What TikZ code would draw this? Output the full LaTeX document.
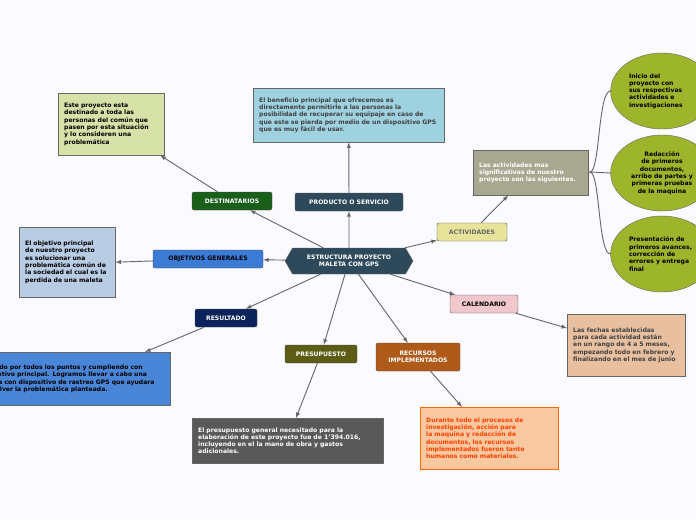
\documentclass[tikz,border=0pt]{standalone}
\usepackage{fontspec}
\setmainfont{DejaVu Sans}
\usetikzlibrary{shapes.symbols,shapes.geometric}
\definecolor{slate}{HTML}{2E4A5A}
\definecolor{olv}{HTML}{9DB52A}
\hyphenpenalty=10000 \exhyphenpenalty=10000
\begin{document}
\begin{tikzpicture}[x=1pt,y=-1pt,
 every node/.style={font=\bfseries\fontsize{6.1}{7.3}\selectfont},
 mainbox/.style={draw=black!70,rounded corners=2pt,minimum height=18,text=white,inner sep=2pt},
 leaf/.style={draw=black!60,anchor=north west,align=left,inner sep=6pt},
 ell/.style={ellipse,draw=black!60,fill=olv,minimum width=100,minimum height=76,align=left,text width=66},
 arr/.style={draw=gray!80!black,line width=0.9pt,-latex},
 ln/.style={draw=gray!80!black,line width=0.9pt}]
\fill[blue!2] (0,0) rectangle (696,520);
\useasboundingbox (0,0) rectangle (696,520);
\node[signal,signal to=east and west,signal pointer angle=120,fill=slate,draw=black!60,text=white,minimum width=128,minimum height=26,align=center] (c) at (349,261) {ESTRUCTURA PROYECTO\\MALETA CON GPS};
\node[mainbox,fill=green!30!black!90,minimum width=80] (dest) at (232,201) {DESTINATARIOS};
\node[mainbox,fill=slate,minimum width=108] (prod) at (349,202) {PRODUCTO O SERVICIO};
\node[mainbox,fill={rgb,255:red,58;green,123;blue,213},text=black,minimum width=110] (obj) at (208,259) {OBJETIVOS GENERALES};
\node[mainbox,fill={rgb,255:red,232;green,227;blue,154},text=black!60,minimum width=70] (act) at (472,232) {ACTIVIDADES};
\node[mainbox,fill={rgb,255:red,10;green,35;blue,90},minimum width=62] (res) at (226,318) {RESULTADO};
\node[mainbox,fill={rgb,255:red,92;green,92;blue,20},minimum width=72] (pre) at (321,354) {PRESUPUESTO};
\node[mainbox,fill={rgb,255:red,176;green,90;blue,26},minimum width=84,minimum height=28,align=center,text=white] (rec) at (418,357) {RECURSOS\\IMPLEMENTADOS};
\node[mainbox,fill={rgb,255:red,240;green,200;blue,204},text=black,minimum width=68] (cal) at (484,304) {CALENDARIO};
\node[leaf,fill={rgb,255:red,214;green,226;blue,168},text width=94,minimum height=62] (l1) at (58,93) {Este proyecto esta destinado a toda las personas del común que pasen por esta situación y lo consideren una problemática};
\node[leaf,fill={rgb,255:red,159;green,210;blue,224},text width=179,minimum height=54,text=black!75] (l2) at (253,88) {El beneficio principal que ofrecemos es directamente permitirle a las personas la posibilidad de recuperar su equipaje en caso de que este se pierda por medio de un dispositivo GPS que es muy fácil de usar.};
\node[leaf,fill={rgb,255:red,184;green,204;blue,228},text width=84,minimum height=70] (l3) at (19,227) {El objetivo principal de nuestro proyecto es solucionar una problemática común de la sociedad el cual es la perdida de una maleta};
\node[leaf,fill={rgb,255:red,168;green,168;blue,144},text=white,text width=103,minimum height=45] (l4) at (473,150) {Las actividades mas significativas de nuestro proyecto son las siguientes.};
\node[leaf,fill={rgb,255:red,74;green,134;blue,216},text width=185,minimum height=53,anchor=north east] (l5) at (170,352) {Pasando por todos los puntos y cumpliendo con el objetivo principal. Logramos llevar a cabo una maleta con dispositivo de rastreo GPS que ayudara a resolver la problemática planteada.};
\node[leaf,fill=black!65,text=white,text width=179,minimum height=45] (l6) at (192,418) {El presupuesto general necesitado para la elaboración de este proyecto fue de 1'394.016, incluyendo en el la mano de obra y gastos adicionales.};
\node[leaf,fill={rgb,255:red,248;green,200;blue,160},draw=orange!80!red,text=orange!50!red,text width=126,minimum height=62] (l7) at (420,407) {Durante todo el procesos de investigación, acción para la maquina y redacción de documentos, los recursos implementados fueron tanto humanos como materiales.};
\node[leaf,fill={rgb,255:red,232;green,192;blue,160},text=black!75,text width=106,minimum height=62] (l8) at (567,314) {Las fechas establecidas para cada actividad están en un rango de 4 a 5 meses, empezando todo en febrero y finalizando en el mes de junio};
\node[ell] (e1) at (662,91) {Inicio del proyecto con sus respectivas actividades e investigaciones};
\node[ell,align=center] (e2) at (662,173) {Redacción de primeros documentos, arribo de partes y primeras pruebas de la maquina};
\node[ell] (e3) at (662,254) {Presentación de primeros avances, corrección de errores y entrega final};
\draw[arr] (c) -- (dest);
\draw[arr] (c) -- (prod);
\draw[arr] (c) -- (obj);
\draw[arr] (c) -- (act);
\draw[arr] (c) -- (res);
\draw[arr] (c) -- (pre);
\draw[arr] (c) -- (rec);
\draw[arr] (c) -- (cal);
\draw[arr] (dest) -- (l1);
\draw[arr] (prod) -- (l2);
\draw[arr] (obj) -- (l3.east);
\draw[arr] (act) -- (l4);
\draw[arr] (res) -- (145,352);
\draw[arr] (pre) -- (296,418);
\draw[arr] (rec) -- (462,407);
\draw[arr] (cal) -- (l8);
\coordinate (hub) at (590,172);
\draw[ln] (l4.east) -- (hub);
\draw[ln] (hub) .. controls (600,172) and (598,91) .. (e1.west);
\draw[ln] (hub) -- (e2.west);
\draw[ln] (hub) .. controls (600,172) and (598,254) .. (e3.west);
\end{tikzpicture}
\end{document}
